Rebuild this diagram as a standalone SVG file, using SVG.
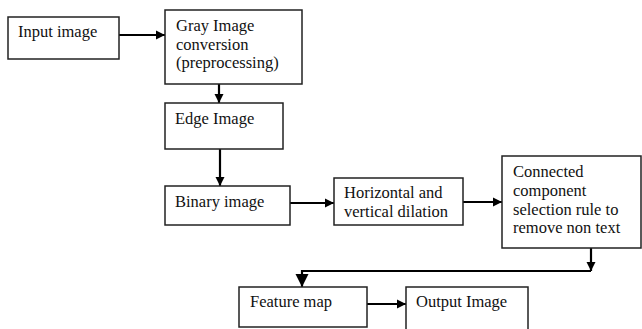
<svg xmlns="http://www.w3.org/2000/svg" width="642" height="329" viewBox="0 0 642 329">
<style>
.box{fill:#fff;stroke:#222;stroke-width:1.5}
.t{font-family:"Liberation Serif","Times New Roman",serif;font-size:16.5px;fill:#111}
.c{fill:none;stroke:#000;stroke-width:2.2}
</style>
<defs>
<marker id="ah" viewBox="0 0 10 10" refX="10" refY="5" markerWidth="4.2" markerHeight="4.2" orient="auto" markerUnits="strokeWidth">
<path d="M0,0 L10,5 L0,10 Z" fill="#000"/>
</marker>
<marker id="ah2" viewBox="0 0 10 10" refX="10" refY="5" markerWidth="6" markerHeight="6" orient="auto" markerUnits="strokeWidth">
<path d="M0,0 L10,5 L0,10 Z" fill="#000"/>
</marker>
</defs>
<rect width="642" height="329" fill="#fff"/>
<g id="connectors">
<path class="c" d="M119,35 H165" marker-end="url(#ah)"/>
<path class="c" d="M219,84 V103" marker-end="url(#ah)"/>
<path class="c" d="M220,149 V186" marker-end="url(#ah)"/>
<path class="c" d="M290,203 H334" marker-end="url(#ah)"/>
<path class="c" d="M463,202 H502" marker-end="url(#ah)"/>
<path class="c" d="M591,248 V271" marker-end="url(#ah)"/>
<path class="c" d="M591,271 H302 V287" stroke-width="1.5" marker-end="url(#ah2)"/>
<path class="c" d="M367,304 H406" marker-end="url(#ah)"/>
</g>
<g id="input">
<rect class="box" x="8" y="17" width="111" height="42"/>
<text class="t" x="18" y="37">Input image</text>
</g>
<g id="gray">
<rect class="box" x="165" y="10" width="137" height="74"/>
<text class="t" x="176" y="31">Gray Image</text>
<text class="t" x="176" y="50">conversion</text>
<text class="t" x="176" y="68">(preprocessing)</text>
</g>
<g id="edge">
<rect class="box" x="165" y="103" width="118" height="46"/>
<text class="t" x="175" y="124">Edge Image</text>
</g>
<g id="binary">
<rect class="box" x="165" y="186" width="125" height="39"/>
<text class="t" x="175" y="207">Binary image</text>
</g>
<g id="dilation">
<rect class="box" x="334" y="178" width="129" height="47"/>
<text class="t" x="344" y="198">Horizontal and</text>
<text class="t" x="344" y="217">vertical dilation</text>
</g>
<g id="connected">
<rect class="box" x="502" y="156" width="139" height="92"/>
<text class="t" x="513" y="177">Connected</text>
<text class="t" x="513" y="196">component</text>
<text class="t" x="513" y="215">selection rule to</text>
<text class="t" x="513" y="233">remove non text</text>
</g>
<g id="feature">
<rect class="box" x="239" y="287" width="128" height="40"/>
<text class="t" x="250" y="307">Feature map</text>
</g>
<g id="output">
<rect class="box" x="406" y="287" width="122" height="50"/>
<text class="t" x="416" y="307">Output Image</text>
</g>
</svg>
